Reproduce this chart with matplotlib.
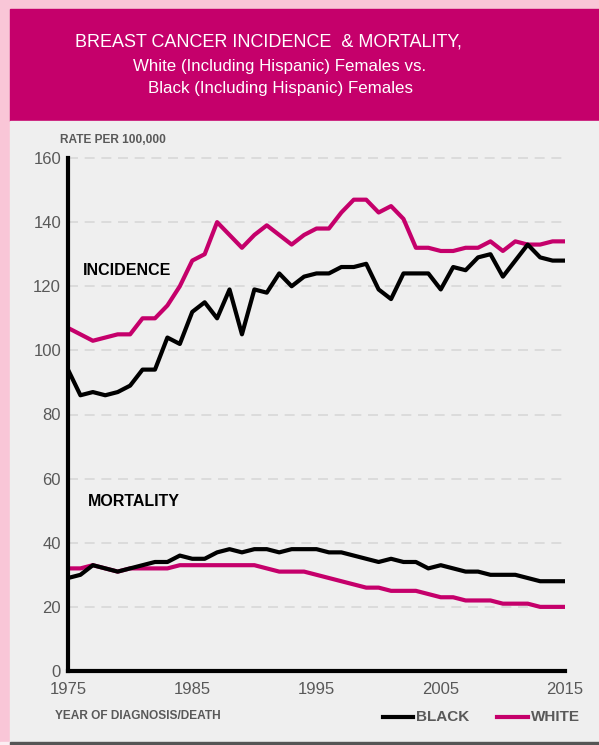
import matplotlib.pyplot as plt
from matplotlib.patches import Rectangle
from matplotlib.lines import Line2D

plt.rcParams['font.family'] = ['Liberation Sans', 'DejaVu Sans']

years = list(range(1975, 2016))

white_incidence = [
    107, 105, 103, 104, 105, 105, 110, 110, 114, 120, 128, 130, 140, 136, 132,
    136, 139, 136, 133, 136, 138, 138, 143, 147, 147, 143, 145, 141, 132, 132,
    131, 131, 132, 132, 134, 131, 134, 133, 133, 134, 134
]
black_incidence = [
    94, 86, 87, 86, 87, 89, 94, 94, 104, 102, 112, 115, 110, 119, 105,
    119, 118, 124, 120, 123, 124, 124, 126, 126, 127, 119, 116, 124, 124, 124,
    119, 126, 125, 129, 130, 123, 128, 133, 129, 128, 128
]
black_mortality = [
    29, 30, 33, 32, 31, 32, 33, 34, 34, 36, 35, 35, 37, 38, 37,
    38, 38, 37, 38, 38, 38, 37, 37, 36, 35, 34, 35, 34, 34, 32,
    33, 32, 31, 31, 30, 30, 30, 29, 28, 28, 28
]
white_mortality = [
    32, 32, 33, 32, 31, 32, 32, 32, 32, 33, 33, 33, 33, 33, 33,
    33, 32, 31, 31, 31, 30, 29, 28, 27, 26, 26, 25, 25, 25, 24,
    23, 23, 22, 22, 22, 21, 21, 21, 20, 20, 20
]

xticks = [1975, 1985, 1995, 2005, 2015]
yticks = [0, 20, 40, 60, 80, 100, 120, 140, 160]

MAGENTA = '#c5006b'
GRAY = '#595959'
W, H = 599, 745

fig = plt.figure(figsize=(W / 100, H / 100), dpi=100)
fig.patch.set_facecolor('#f9c6d7')

# background panels (pixel coords -> figure fraction)
def px_rect(x0, y0, x1, y1, color):
    fig.patches.append(Rectangle((x0 / W, 1 - y1 / H), (x1 - x0) / W, (y1 - y0) / H,
                                 transform=fig.transFigure, color=color, zorder=-10))

px_rect(0, 742, 10, 745, '#fbeef2')
px_rect(10, 9, W, 121, MAGENTA)
px_rect(10, 121, W, 742, '#efefef')
px_rect(10, 742, W, 745, '#555555')

fig.text(268 / W, 1 - 42 / H, 'BREAST CANCER INCIDENCE  & MORTALITY,', color='white',
         fontsize=13, ha='center', va='center')
fig.text(280 / W, 1 - 66 / H, 'White (Including Hispanic) Females vs.', color='white',
         fontsize=12.2, ha='center', va='center')
fig.text(280 / W, 1 - 89 / H, 'Black (Including Hispanic) Females', color='white',
         fontsize=12.2, ha='center', va='center')

ax = fig.add_axes([68 / W, 1 - 671 / H, 497 / W, 513 / H])
ax.set_facecolor('none')

ax.plot(years, white_incidence, color=MAGENTA, lw=3, solid_capstyle='butt')
ax.plot(years, black_incidence, color='black', lw=3, solid_capstyle='butt')
ax.plot(years, white_mortality, color=MAGENTA, lw=3, solid_capstyle='butt')
ax.plot(years, black_mortality, color='black', lw=3, solid_capstyle='butt')

ax.set_xlim(1975, 2015)
ax.set_ylim(0, 160)
ax.set_xticks(xticks)
ax.set_yticks(yticks)
ax.tick_params(length=0, labelsize=12, labelcolor=GRAY, pad=5)
ax.tick_params(axis='x', pad=8)

for y in yticks[1:]:
    ax.plot([1975, 2015.2], [y, y], color='#d8d8d8', lw=1.2, ls=(0, (6, 4)),
            zorder=0, clip_on=False)

for s in ['top', 'right']:
    ax.spines[s].set_visible(False)
ax.spines['left'].set_linewidth(3)
ax.spines['bottom'].set_linewidth(3)

ax.text(1976.2, 125, 'INCIDENCE', fontsize=11.5, fontweight='bold', va='center')
ax.text(1976.6, 53, 'MORTALITY', fontsize=11.5, fontweight='bold', va='center')

fig.text(60 / W, 1 - 140 / H, 'RATE PER 100,000', fontsize=8.6, fontweight='bold',
         color=GRAY, va='center')
fig.text(55 / W, 1 - 716 / H, 'YEAR OF DIAGNOSIS/DEATH', fontsize=8.6, fontweight='bold',
         color=GRAY, va='center')

# legend
fig.add_artist(Line2D([383 / W, 413 / W], [1 - 717 / H] * 2, color='black', lw=3))
fig.text(416 / W, 1 - 717 / H, 'BLACK', fontsize=11, fontweight='bold', color=GRAY,
         va='center')
fig.add_artist(Line2D([497 / W, 528 / W], [1 - 717 / H] * 2, color=MAGENTA, lw=3))
fig.text(531 / W, 1 - 717 / H, 'WHITE', fontsize=11, fontweight='bold', color=GRAY,
         va='center')

fig.savefig('out.png', dpi=100, facecolor=fig.get_facecolor())
